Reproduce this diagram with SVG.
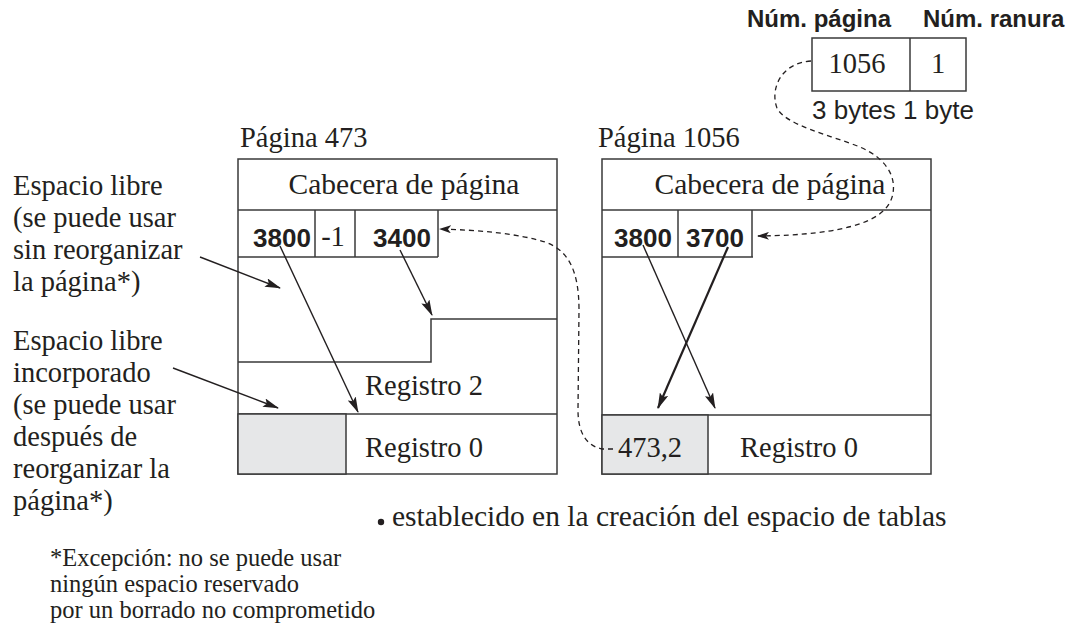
<svg xmlns="http://www.w3.org/2000/svg" width="1073" height="629" viewBox="0 0 1073 629">
<style>
.s{font-family:"Liberation Serif","Times New Roman",serif;font-size:28.5px;fill:#231f20}
.c{font-family:"Liberation Serif","Times New Roman",serif;font-size:29.5px;fill:#231f20}
.f{font-family:"Liberation Serif","Times New Roman",serif;font-size:24.5px;fill:#231f20}
.b{font-family:"Liberation Sans",Arial,sans-serif;font-weight:bold;font-size:26px;fill:#231f20}
.h{font-family:"Liberation Sans",Arial,sans-serif;font-weight:bold;font-size:24px;fill:#231f20}
.r{font-family:"Liberation Sans",Arial,sans-serif;font-size:26px;fill:#231f20}
.box{fill:#fff;stroke:#3a3a3a;stroke-width:1.5}
.ln{fill:none;stroke:#3a3a3a;stroke-width:1.5}
.gray{fill:#e6e7e8;stroke:#3a3a3a;stroke-width:1.5}
.arr{fill:none;stroke:#231f20;stroke-width:1.4;marker-end:url(#ah)}
.arrb{fill:none;stroke:#231f20;stroke-width:2.2;marker-end:url(#ah)}
.dash{fill:none;stroke:#231f20;stroke-width:1.3;stroke-dasharray:5,4;marker-end:url(#ahd)}
</style>
<defs>
<marker id="ah" markerWidth="16" markerHeight="9" refX="15" refY="4.5" orient="auto" markerUnits="userSpaceOnUse">
<path d="M0,0 L16,4.5 L0,9 L3,4.5 Z" fill="#231f20"/>
</marker>
<marker id="ahd" markerWidth="12" markerHeight="8" refX="11" refY="4" orient="auto" markerUnits="userSpaceOnUse">
<path d="M0,0 L12,4 L0,8 L3,4 Z" fill="#231f20"/>
</marker>
</defs>

<g id="rid">
<text class="h" x="747" y="27">Núm. página</text>
<text class="h" x="923" y="27">Núm. ranura</text>
<rect class="box" x="812" y="38" width="154" height="53"/>
<line class="ln" x1="910" y1="38" x2="910" y2="91"/>
<text class="s" x="857" y="73" text-anchor="middle">1056</text>
<text class="s" x="938" y="73" text-anchor="middle">1</text>
<text class="r" x="812" y="119">3 bytes 1 byte</text>
</g>

<g id="page473">
<text class="s" x="240" y="147">Página 473</text>
<rect class="box" x="238" y="159" width="319" height="315"/>
<line class="ln" x1="238" y1="210" x2="557" y2="210"/>
<text class="c" x="404" y="194" text-anchor="middle">Cabecera de página</text>
<line class="ln" x1="238" y1="257" x2="438" y2="257"/>
<line class="ln" x1="315" y1="210" x2="315" y2="257"/>
<line class="ln" x1="355" y1="210" x2="355" y2="257"/>
<line class="ln" x1="438" y1="210" x2="438" y2="257"/>
<text class="b" x="282" y="247" text-anchor="middle">3800</text>
<text class="s" x="333" y="246" text-anchor="middle">-1</text>
<text class="b" x="402" y="247" text-anchor="middle">3400</text>
<polyline class="ln" points="557,319 431,319 431,362 238,362"/>
<line class="ln" x1="238" y1="414" x2="557" y2="414"/>
<text class="s" x="365" y="395">Registro 2</text>
<rect class="gray" x="238" y="414" width="108" height="60"/>
<text class="s" x="365" y="457">Registro 0</text>
</g>

<g id="page1056">
<text class="s" x="598" y="147">Página 1056</text>
<rect class="box" x="602" y="159" width="329" height="315"/>
<line class="ln" x1="602" y1="210" x2="931" y2="210"/>
<text class="c" x="770" y="194" text-anchor="middle">Cabecera de página</text>
<line class="ln" x1="602" y1="257" x2="753" y2="257"/>
<line class="ln" x1="678" y1="210" x2="678" y2="257"/>
<line class="ln" x1="752" y1="210" x2="752" y2="257"/>
<text class="b" x="643" y="247" text-anchor="middle">3800</text>
<text class="b" x="715" y="247" text-anchor="middle">3700</text>
<line class="ln" x1="602" y1="415" x2="931" y2="415"/>
<rect class="gray" x="602" y="415" width="106" height="59"/>
<text class="s" x="650" y="457" text-anchor="middle">473,2</text>
<text class="s" x="740" y="457">Registro 0</text>
</g>

<g id="note-libre">
<text class="s" x="13" y="195">Espacio libre</text>
<text class="s" x="13" y="227">(se puede usar</text>
<text class="s" x="13" y="259">sin reorganizar</text>
<text class="s" x="13" y="291">la página*)</text>
</g>

<g id="note-incorporado">
<text class="s" x="13" y="350">Espacio libre</text>
<text class="s" x="13" y="382">incorporado</text>
<text class="s" x="13" y="414">(se puede usar</text>
<text class="s" x="13" y="446">después de</text>
<text class="s" x="13" y="478">reorganizar la</text>
<text class="s" x="13" y="510">página*)</text>
</g>

<g id="note-establecido">
<circle cx="381" cy="522" r="3.2" fill="#231f20"/>
<text class="c" x="392" y="526">establecido en la creación del espacio de tablas</text>
</g>

<g id="footnote">
<text class="f" x="50" y="566">*Excepción: no se puede usar</text>
<text class="f" x="50" y="592">ningún espacio reservado</text>
<text class="f" x="50" y="618">por un borrado no comprometido</text>
</g>

<g id="connectors">
<line class="arr" x1="200" y1="257" x2="280" y2="288"/>
<line class="arr" x1="173" y1="368" x2="278" y2="408"/>
<line class="arr" x1="280" y1="246" x2="358" y2="412"/>
<line class="arr" x1="400" y1="250" x2="432" y2="315"/>
<line class="arr" x1="643" y1="245" x2="715" y2="408"/>
<line class="arrb" x1="728" y1="247" x2="658" y2="408"/>
<path class="dash" d="M811,61 C780,63 770,90 777,108 C785,125 830,135 860,147 C885,158 896,175 893,193 C889,220 850,235 758,236"/>
<path class="dash" d="M613,449 L602,449 C588,446 578,435 578,410 L579,310 C579,270 568,250 545,242 C520,234 480,230 440,229"/>
</g>
</svg>
